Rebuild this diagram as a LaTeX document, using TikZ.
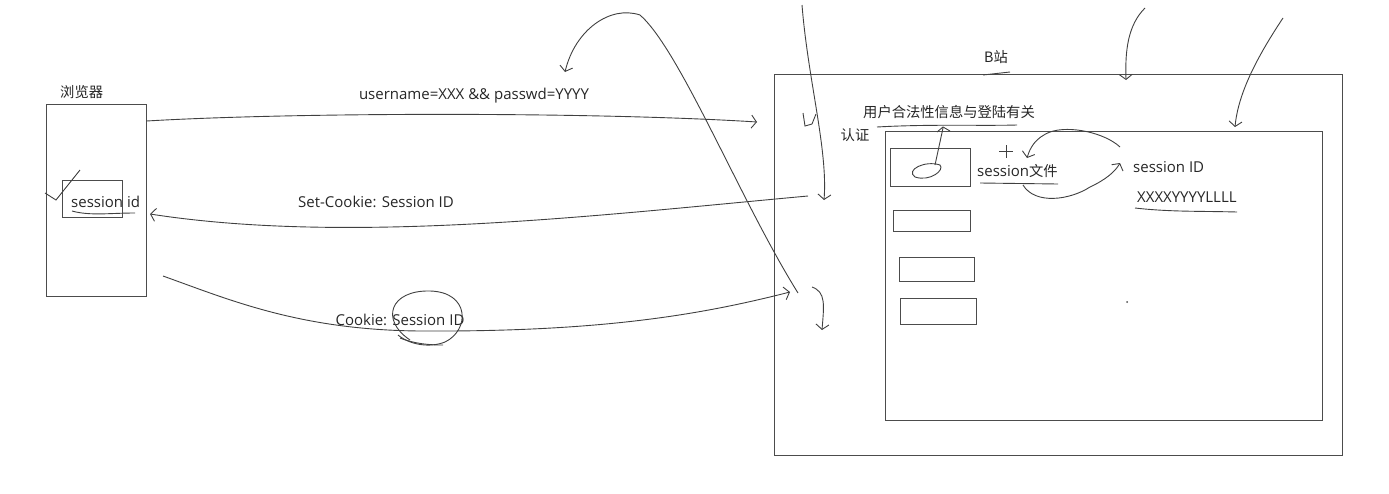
\documentclass[tikz,border=0pt]{standalone}
\usepackage{fontspec}
\setmainfont{Open Sans}
\newfontfamily\cjk{Noto Sans CJK SC}
\usetikzlibrary{arrows.meta}

\begin{document}
\begin{tikzpicture}[x=1pt, y=-1pt, >={Straight Barb[length=5pt,width=13pt]}]
    \tikzstyle{box}=[draw=black!70, line width=1pt, inner sep=0]
    \tikzstyle{pen}=[draw=black!75, line width=0.9pt]
    \tikzstyle{lbl}=[font=\fontsize{15}{17}\selectfont, text=black!85, inner sep=0]
    \tikzstyle{zh}=[font=\fontsize{14.3}{16}\selectfont\cjk, text=black!85, inner sep=0]
    \useasboundingbox (0,0) rectangle (1389,493);

    % browser side
    \node (browser) at (96,200) [box, minimum width=100, minimum height=192] {};
    \node (browser-lbl) at (60,92) [zh, anchor=west] {浏览器};
    \node (sid-box) at (92,198.5) [box, minimum width=60, minimum height=37] {};
    \node (sid) at (71,202) [lbl, anchor=west] {session id};

    % site side
    \node (site) at (1058,264.5) [box, minimum width=568, minimum height=381] {};
    \node (site-lbl) at (996,57) [zh] {B站};
    \node (store) at (1103.5,275.5) [box, minimum width=437, minimum height=289] {};
    \node (rec-1) at (930,167) [box, minimum width=80, minimum height=38] {};
    \node (rec-2) at (931.5,220.5) [box, minimum width=77, minimum height=21] {};
    \node (rec-3) at (936.5,269) [box, minimum width=75, minimum height=24] {};
    \node (rec-4) at (938,311) [box, minimum width=76, minimum height=26] {};
    \node (legal) at (949,112) [zh] {用户合法性信息与登陆有关};
    \node (auth) at (855,135) [zh] {认证};
    \node (sfile) at (977,171) [lbl, anchor=west] {session{\cjk\fontsize{14.3}{16}\selectfont 文件}};
    \node (skey) at (1133,167) [lbl, anchor=west] {session ID};
    \node (sval) at (1137,197) [lbl, anchor=west] {XXXXYYYYLLLL};
    \node (dot) at (1127,302) [circle, fill=black!70, inner sep=0, minimum size=2] {};

    % message labels
    \node (login) at (474,96) [lbl] {username=XXX \&\& passwd=YYYY};
    \node (setck) at (376,202) [lbl] {Set-Cookie: Session ID};
    \node (ck) at (400,320) [lbl] {Cookie: Session ID};

    \coordinate (login-to) at (757,122);
    \coordinate (setck-from) at (808,196);
    \coordinate (setck-to) at (150,214);
    \coordinate (ck-from) at (163,276);
    \coordinate (ck-to) at (790,292);
    \coordinate (loop-from) at (798,293);
    \coordinate (loop-to) at (565,72);
    \coordinate (top-1) at (802,5);
    \coordinate (top-1-end) at (824,200);
    \coordinate (top-2) at (1145,8);
    \coordinate (top-2-end) at (1126,80);
    \coordinate (top-3) at (1283,18);
    \coordinate (top-3-end) at (1235,127);
    \coordinate (low) at (812,287);
    \coordinate (low-end) at (822,330);
    \coordinate (sfile-out) at (1023,185);
    \coordinate (skey-in) at (1120,163);
    \coordinate (skey-out) at (1120,147);
    \coordinate (sfile-in) at (1027,158);

    \draw [pen, ->] (browser.east |- 0,121) .. controls (300,112) and (600,112) .. (login-to);
    \draw [pen, ->] (setck-from) .. controls (600,215) and (350,245) .. (setck-to);
    \draw [pen, ->] (ck-from) .. controls (230,300) and (300,330) .. (420,331)
        .. controls (600,332) and (700,315) .. (ck-to);
    \draw [pen, ->] (loop-from) .. controls (740,200) and (680,50) .. (640,15)
        .. controls (610,5) and (575,30) .. (loop-to);

    \draw [pen, ->] (top-1) .. controls (808,80) and (828,150) .. (top-1-end);
    \draw [pen, ->] (top-2) .. controls (1128,25) and (1125,50) .. (top-2-end);
    \draw [pen, ->] (top-3) .. controls (1255,60) and (1238,95) .. (top-3-end);
    \draw [pen, ->] (low) .. controls (826,292) and (824,305) .. (low-end);
    \draw [pen, ->] (sfile-out) .. controls (1035,205) and (1070,200) .. (1090,187)
        .. controls (1105,180) and (1115,172) .. (skey-in);
    \draw [pen, ->] (skey-out) .. controls (1105,133) and (1070,125) .. (1050,132)
        .. controls (1035,138) and (1030,148) .. (sfile-in);

    % scribbles
    \draw [pen] (45,193) .. controls (50,196) .. (56,200) -- (80,170);
    \draw [pen] (72,211) .. controls (90,216) and (110,213) .. (135,213);
    \draw [pen] (983,75) -- (1010,72);
    \draw [pen] (877,127) .. controls (930,124) and (980,126) .. (1017,125);
    \draw [pen] (980,183) -- (1058,184);
    \draw [pen] (1135,208) .. controls (1170,212) and (1200,211) .. (1237,212);
    \draw [pen] (803,113) -- (805,126) -- (812,124) -- (816,114);
    \draw [pen] (915,177) .. controls (905,170) and (925,160) .. (940,165)
        .. controls (945,170) and (930,182) .. (915,177);
    \draw [pen] (935,165) -- (943,128);
    \draw [pen] (937,132) -- (943,127) -- (950,131);
    \draw [pen, line width=0.6pt] (1006,145) -- (1006,158) (999,151) -- (1013,151);
    \draw [pen] (410,340) .. controls (380,320) and (390,290) .. (430,291)
        .. controls (470,292) and (470,330) .. (445,342)
        .. controls (430,348) and (410,345) .. (398,335);
    \draw [pen] (400,338) .. controls (415,344) and (430,345) .. (443,345);
\end{tikzpicture}
\end{document}
